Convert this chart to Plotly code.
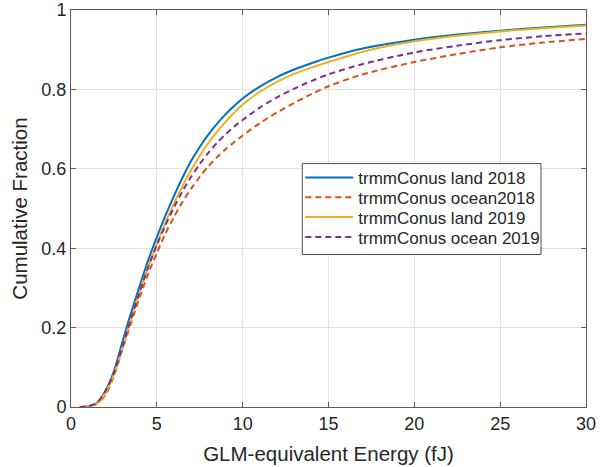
import plotly.graph_objects as go

# Data
x_land18 = [0.7, 1.0, 1.5, 2.0, 2.5, 3.0, 3.5, 4.0, 4.5, 5.0, 5.5, 6.0, 6.5, 7.0, 7.5, 8.0, 8.5, 9.0, 9.5, 10, 11, 12, 13, 14, 15, 17, 20, 22.5, 25, 27.5, 30]
y_land18 = [0, 0.002, 0.01, 0.04, 0.09, 0.165, 0.237, 0.305, 0.37, 0.428, 0.482, 0.532, 0.578, 0.62, 0.655, 0.686, 0.713, 0.737, 0.758, 0.777, 0.807, 0.831, 0.850, 0.866, 0.880, 0.903, 0.925, 0.938, 0.948, 0.956, 0.963]

x_ocean18 = [0.7, 1.0, 1.5, 2.0, 2.5, 3.0, 3.5, 4.0, 4.5, 5.0, 5.5, 6.0, 6.5, 7.0, 7.5, 8.0, 8.5, 9.0, 9.5, 10, 11, 12, 13, 14, 15, 17, 20, 22.5, 25, 27.5, 30]
y_ocean18 = [0, 0.001, 0.008, 0.03, 0.078, 0.146, 0.212, 0.276, 0.336, 0.388, 0.437, 0.479, 0.517, 0.55, 0.58, 0.606, 0.629, 0.649, 0.667, 0.684, 0.715, 0.742, 0.766, 0.788, 0.808, 0.838, 0.869, 0.889, 0.906, 0.918, 0.927]

x_land19 = [0.8, 1.0, 1.5, 2.0, 2.5, 3.0, 3.5, 4.0, 4.5, 5.0, 5.5, 6.0, 6.5, 7.0, 7.5, 8.0, 8.5, 9.0, 9.5, 10, 11, 12, 13, 14, 15, 17, 20, 22.5, 25, 27.5, 30]
y_land19 = [0, 0.001, 0.008, 0.035, 0.082, 0.15, 0.222, 0.29, 0.353, 0.411, 0.464, 0.513, 0.557, 0.597, 0.633, 0.665, 0.693, 0.718, 0.741, 0.762, 0.794, 0.819, 0.839, 0.855, 0.869, 0.895, 0.921, 0.935, 0.946, 0.954, 0.961]

x_ocean19 = [0.5, 1.0, 1.5, 2.0, 2.5, 3.0, 3.5, 4.0, 4.5, 5.0, 5.5, 6.0, 6.5, 7.0, 7.5, 8.0, 8.5, 9.0, 9.5, 10, 11, 12, 13, 14, 15, 17, 20, 22.5, 25, 27.5, 30]
y_ocean19 = [0, 0.002, 0.01, 0.04, 0.086, 0.152, 0.223, 0.29, 0.352, 0.408, 0.458, 0.503, 0.544, 0.58, 0.612, 0.64, 0.665, 0.687, 0.706, 0.723, 0.754, 0.780, 0.802, 0.821, 0.838, 0.864, 0.893, 0.910, 0.924, 0.934, 0.941]

names = ["trmmConus land 2018", "trmmConus ocean2018", "trmmConus land 2019", "trmmConus ocean 2019"]
colors = ["#0072BD", "#D95319", "#EDB120", "#7E2F8E"]
dashes = ["solid", "6px,4px", "solid", "6px,4px"]

x_ticks = [0, 5, 10, 15, 20, 25, 30]
y_ticks = [0, 0.2, 0.4, 0.6, 0.8, 1]
y_tick_text = ["0", "0.2", "0.4", "0.6", "0.8", "1"]

# legend layout (plot-area fractions)
legend_ids = ["legend", "legend2", "legend3", "legend4"]
legend_rows_y = [0.5769, 0.5275, 0.4772, 0.4269]
legend_x = 0.4452
box = dict(x0=0.4491, x1=0.9126, y0=0.3842, y1=0.6131)

fig = go.Figure()
for xs, ys, n, c, d, lg in zip([x_land18, x_ocean18, x_land19, x_ocean19],
                               [y_land18, y_ocean18, y_land19, y_ocean19],
                               names, colors, dashes, legend_ids):
    fig.add_trace(go.Scatter(x=xs, y=ys, mode="lines", name=n, legend=lg,
                             line=dict(color=c, width=2, dash=d, shape="spline", smoothing=0.8)))

axis_common = dict(
    showline=True, linecolor="#5a5a5a", linewidth=1, mirror="ticks",
    ticks="inside", ticklen=5, tickcolor="#5a5a5a",
    showgrid=True, gridcolor="#e3e3e3", gridwidth=1, zeroline=False,
    automargin=False,
    tickfont=dict(family="Liberation Sans, Arial", size=18, color="#262626"),
)

legend_font = dict(family="Liberation Sans, Arial", size=17, color="#262626")
legend_layouts = {}
for lg, yy in zip(legend_ids, legend_rows_y):
    legend_layouts[lg] = dict(x=legend_x, y=yy, xanchor="left", yanchor="middle",
                              bgcolor="rgba(0,0,0,0)", borderwidth=0,
                              font=legend_font, itemwidth=48)

fig.add_shape(type="rect", xref="paper", yref="paper", layer="above",
              x0=box["x0"], x1=box["x1"], y0=box["y0"], y1=box["y1"],
              fillcolor="white", line=dict(color="#4d4d4d", width=1))

fig.update_layout(
    width=603, height=467,
    margin=dict(l=71, r=17, t=9.5, b=60),
    paper_bgcolor="white", plot_bgcolor="white",
    font=dict(family="Liberation Sans, Arial", color="#262626"),
    xaxis=dict(range=[0, 30], tickvals=x_ticks,
               title=dict(text="GLM-equivalent Energy (fJ)", font=dict(size=20.5), standoff=14),
               **axis_common),
    yaxis=dict(range=[0, 1], tickvals=y_ticks, ticktext=y_tick_text,
               title=dict(text="Cumulative Fraction", font=dict(size=20.5), standoff=8),
               **axis_common),
    showlegend=True,
    **legend_layouts,
)

fig.write_html("out.html")
